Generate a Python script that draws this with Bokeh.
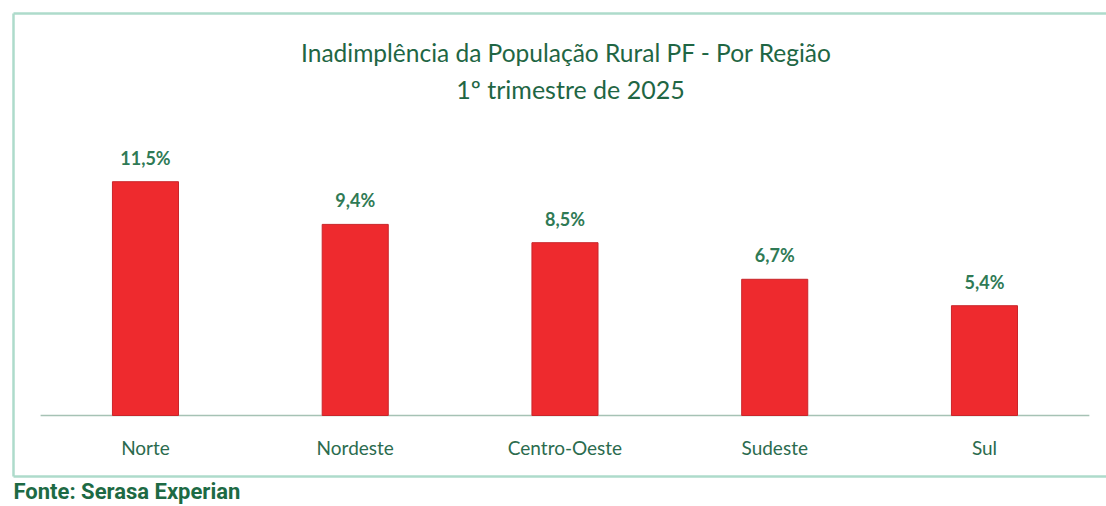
from bokeh.plotting import figure
from bokeh.models import Range1d, ColumnDataSource
from bokeh.core.properties import value
from bokeh.embed import file_html
from bokeh.resources import INLINE
import numpy as np

categories = ["Norte", "Nordeste", "Centro-Oeste", "Sudeste", "Sul"]
values = [11.5, 9.4, 8.5, 6.7, 5.4]
value_labels = ["11,5%", "9,4%", "8,5%", "6,7%", "5,4%"]
title_lines = ["Inadimplência da População Rural PF - Por Região", "1º trimestre de 2025"]
source_text = "Fonte: Serasa Experian"

W, H = 1106, 506
# pixel scales (figure px -> data)
KX = 209.75
KY = 20.33
X0 = 40.1      # x of category slot 0 start, in figure px
BASE = 415     # baseline y, in figure px


def px(x):
    return (x - X0) / KX


def py(y):
    return (BASE - y) / KY


p = figure(width=W, height=H, output_backend="svg", toolbar_location=None,
           x_range=Range1d(px(0), px(W)), y_range=Range1d(py(H), py(0)),
           x_axis_location=None, y_axis_location=None, min_border=0)
p.xgrid.visible = False
p.ygrid.visible = False
p.outline_line_color = None
p.background_fill_color = "white"
p.border_fill_color = "white"

xs = np.arange(len(categories)) + 0.5
src = ColumnDataSource(dict(x=xs, top=values, cat=categories, lab=value_labels,
                            ylab=np.array(values) + 24 / KY))

# border (top, left, bottom)
border_color = "#aedbcb"
p.segment(x0=[px(13), px(13), px(13)], y0=[py(13), py(13), py(476)],
          x1=[px(W + 20), px(13), px(W + 20)], y1=[py(13), py(476), py(476)],
          line_color=border_color, line_width=2.5)

# baseline
p.segment(x0=[0], y0=[0], x1=[len(categories)], y1=[0], line_color="#a6c2b5", line_width=1.6)

p.vbar(x="x", top="top", bottom=0, width=0.315, source=src,
       fill_color="#ee2a2e", line_color="#c9252a", line_width=1)

p.text(x="x", y="ylab", text="lab", source=src, text_align="center", text_baseline="middle",
       text_font=value("Lato"), text_font_style="bold", text_font_size="18px",
       text_color="#2f7a55")

p.text(x="x", y=py(447), text="cat", source=src, text_align="center", text_baseline="middle",
       text_font=value("Lato"), text_font_size="19px", text_color="#2b6b4e")

p.text(x=[px(566)], y=[py(52)], text=[title_lines[0]], text_align="center",
       text_baseline="middle", text_font=value("Lato"), text_font_size="24.5px", text_color="#1f6644")
p.text(x=[px(570)], y=[py(88)], text=[title_lines[1]], text_align="center",
       text_baseline="middle", text_font=value("Lato"), text_font_size="25px", text_color="#1f6644")

p.text(x=[px(13)], y=[py(491)], text=[source_text], text_align="left",
       text_baseline="middle", text_font=value("Roboto"), text_font_style="bold",
       text_font_size="22px", text_color="#1d6a44")

open("out.html", "w").write(file_html(p, INLINE))
